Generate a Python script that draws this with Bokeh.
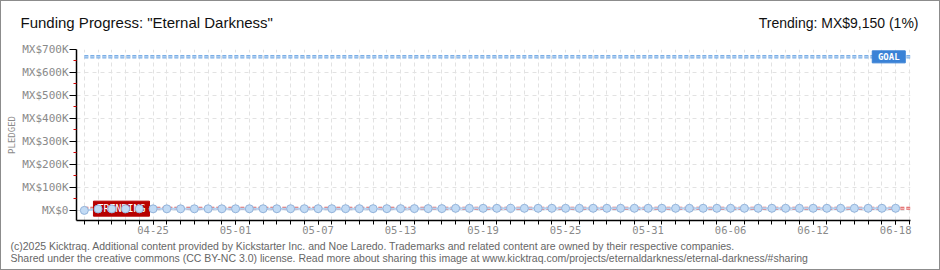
import numpy as np
from bokeh.plotting import figure
from bokeh.layouts import column
from bokeh.models import FixedTicker, Range1d
from bokeh.core.properties import value
from bokeh.embed import file_html
from bokeh.resources import INLINE

# ---------------- data ----------------
dates = np.arange(np.datetime64("2025-04-20"), np.datetime64("2025-06-19"))  # daily, 60 days
pledged = [0,
           6150, 6400, 6550, 6700, 6800, 6850, 6900, 6950, 7000, 7050, 7100, 7150, 7200,
           7250, 7300, 7350, 7400, 7450, 7500, 7500, 7550, 7600, 7650, 7700, 7750, 7800,
           8900, 8950, 8950, 9000, 9000, 9000, 9050, 9050, 9050, 9050, 9100, 9100, 9100,
           9100, 9100, 9100, 9150, 9150, 9150, 9150, 9150, 9150, 9150, 9150, 9150, 9150,
           9150, 9150, 9150, 9150, 9150, 9150, 9150]
goal = 668000
trending = 9150
y_ticks = [0, 100000, 200000, 300000, 400000, 500000, 600000, 700000]
y_tick_labels = ["MX$0", "MX$100K", "MX$200K", "MX$300K", "MX$400K", "MX$500K", "MX$600K", "MX$700K"]
x_tick_dates = ["2025-04-25", "2025-05-01", "2025-05-07", "2025-05-13", "2025-05-19",
                "2025-05-25", "2025-05-31", "2025-06-06", "2025-06-12", "2025-06-18"]
x_tick_labels = ["04-25", "05-01", "05-07", "05-13", "05-19", "05-25", "05-31", "06-06", "06-12", "06-18"]
title_text = 'Funding Progress: "Eternal Darkness"'
trending_text = "Trending: MX$9,150 (1%)"
footer1 = ("(c)2025 Kicktraq. Additional content provided by Kickstarter Inc. and Noe Laredo. "
           "Trademarks and related content are owned by their respective companies.")
footer2 = ("Shared under the creative commons (CC BY-NC 3.0) license. Read more about sharing this "
           "image at www.kicktraq.com/projects/eternaldarkness/eternal-darkness/#sharing")

W = 938
HEAD_H, MAIN_H, FOOT_H = 39, 198, 31


def no_align(f):
    try:
        f.frame_align = False
    except Exception:
        pass


def text_strip(h):
    f = figure(width=W, height=h, x_range=Range1d(0, W), y_range=Range1d(0, h),
               output_backend="svg", toolbar_location=None,
               x_axis_location=None, y_axis_location=None,
               min_border=0, min_border_left=0, min_border_right=0,
               min_border_top=0, min_border_bottom=0)
    f.grid.visible = False
    f.outline_line_color = None
    f.background_fill_color = "white"
    f.border_fill_color = "white"
    no_align(f)
    return f


# ---------------- header ----------------
head = text_strip(HEAD_H)
head.text(x=[19], y=[HEAD_H - 21], text=[title_text], text_font=value("Liberation Sans"),
          text_font_size="15px", text_color="#111111", text_baseline="middle", text_align="left")
head.text(x=[917], y=[HEAD_H - 21], text=[trending_text], text_font=value("Liberation Sans"),
          text_font_size="14px", text_color="#111111", text_baseline="middle", text_align="right")

# ---------------- main chart ----------------
DAY = 86400000.0
x_ms = dates.astype("datetime64[ms]").astype("int64").astype(float)
first = x_ms[0]
x_start = first - 0.57 * DAY
x_end = first + 60.08 * DAY
all_days = [first + i * DAY for i in range(61)]
major_ms = [float(np.datetime64(d).astype("datetime64[ms]").astype("int64")) for d in x_tick_dates]

p = figure(width=W, height=MAIN_H, x_axis_type="datetime",
           x_range=Range1d(x_start, x_end), y_range=Range1d(-44000, 700000),
           output_backend="svg", toolbar_location=None,
           min_border_left=75, min_border_right=29, min_border_top=9, min_border_bottom=18)
no_align(p)
p.background_fill_color = "white"
p.border_fill_color = "white"
p.outline_line_color = None

p.xgrid.ticker = FixedTicker(ticks=all_days)
p.xgrid.grid_line_color = "#e2e2e2"
p.xgrid.grid_line_dash = "4 3"
p.ygrid.ticker = FixedTicker(ticks=y_ticks)
p.ygrid.grid_line_color = "#e2e2e2"
p.ygrid.grid_line_dash = "4 4"

xa = p.xaxis[0]
xa.ticker = FixedTicker(ticks=major_ms, minor_ticks=all_days)
xa.major_label_overrides = {m: l for m, l in zip(major_ms, x_tick_labels)}
xa.axis_line_color = "black"
xa.axis_line_width = 1.5
xa.major_tick_line_color = "black"
xa.minor_tick_line_color = "black"
xa.major_tick_in = 0
xa.major_tick_out = 4
xa.minor_tick_in = 0
xa.minor_tick_out = 4
xa.major_label_standoff = 1
xa.major_label_text_font = "DejaVu Sans Mono"
xa.major_label_text_font_size = "10.5px"
xa.major_label_text_color = "#8a8a8a"

ya = p.yaxis[0]
ya.ticker = FixedTicker(ticks=y_ticks, minor_ticks=[t + 50000 for t in y_ticks[:-1]])
ya.major_label_overrides = {t: l for t, l in zip(y_ticks, y_tick_labels)}
ya.axis_line_color = "black"
ya.axis_line_width = 1.5
ya.major_tick_line_color = "black"
ya.minor_tick_line_color = "#d40000"
ya.major_tick_in = 0
ya.major_tick_out = 7
ya.minor_tick_in = 0
ya.minor_tick_out = 3
ya.major_label_standoff = 1
ya.major_label_text_font = "DejaVu Sans Mono"
ya.major_label_text_font_size = "11px"
ya.major_label_text_color = "#8a8a8a"
ya.axis_label = "PLEDGED"
ya.axis_label_text_font = "DejaVu Sans Mono"
ya.axis_label_text_font_size = "9px"
ya.axis_label_text_font_style = "normal"
ya.axis_label_text_color = "#8a8a8a"
ya.axis_label_standoff = 2

p.varea(x=x_ms, y1=0, y2=pledged, fill_color="#dce9f8")

p.line([first, x_end], [goal, goal], line_color="#7aaee6", line_width=3.5, line_dash="4 2")
p.line([first, x_end], [goal, goal], line_color="#c8ddf6", line_width=1, line_dash="4 2")

p.line([first, x_end], [trending, trending], line_color="#e06060", line_width=3, line_dash="4 2")
p.line([first, x_end], [trending, trending], line_color="#f6c9c9", line_width=1, line_dash="4 2")

p.line(x_ms, pledged, line_color="#b5d1f0", line_width=2)

tx = first + 2.7 * DAY
ty = 7500
p.rect(x=[tx], y=[ty], width=56, height=15, width_units="screen", height_units="screen",
       fill_color="#b70000", line_color="#b70000")
p.text(x=[tx], y=[ty], text=["TRENDING"], text_font=value("DejaVu Sans Mono"),
       text_font_size="10px", text_color="white", text_align="center", text_baseline="middle")

p.scatter(x_ms, pledged, size=8, fill_color="#c2dbf5", line_color="#93b3da", line_width=1)

gx = first + 58.5 * DAY
p.rect(x=[gx], y=[goal], width=33, height=12, width_units="screen", height_units="screen",
       fill_color="#3a82d6", line_color="#3a82d6")
p.text(x=[gx], y=[goal], text=["GOAL"], text_font=value("DejaVu Sans Mono"),
       text_font_size="9px", text_font_style="bold", text_color="white",
       text_align="center", text_baseline="middle")

# ---------------- footer ----------------
foot = text_strip(FOOT_H)
foot.text(x=[9, 9], y=[FOOT_H - 7, FOOT_H - 19], text=[footer1, footer2],
          text_font=value("Liberation Sans"), text_font_size="10.5px", text_color="#666666",
          text_baseline="middle", text_align="left")

page = column(head, p, foot, spacing=0, styles={"border": "1px solid #8c8c8c"})
open("out.html", "w").write(file_html(page, INLINE))
